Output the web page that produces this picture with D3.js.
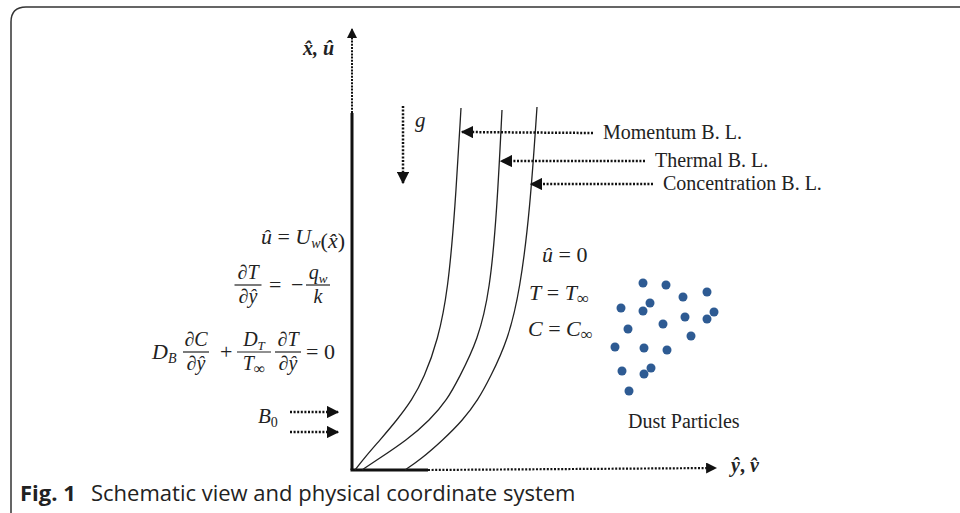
<!DOCTYPE html>
<html>
<head>
<meta charset="utf-8">
<script src="https://cdn.jsdelivr.net/npm/d3@7"></script>
<style>
  body { margin: 0; background: #fff; }
  .math { font-family: 'Liberation Serif', 'DejaVu Serif', serif; fill: #222; }
  .lbl { font-family: 'Liberation Serif', serif; font-size: 20px; fill: #222; }
  .cap { font-family: 'Open Sans', sans-serif; font-size: 22px; fill: #222; }
</style>
</head>
<body>
<svg width="960" height="513"></svg>
<script>
// boundary layer edges: [distance from wall, height above leading edge]
const momentumBL = [[3,0],[14,14],[28,30],[45,50],[60,70],[72,92],[86,130],[96,180],[103,260],[109,362]];
const thermalBL = [[10,0],[25,10],[55,30],[78,50],[95,70],[107,92],[126,130],[138,180],[145,260],[150,360]];
const concentrationBL = [[53,0],[68,10],[91,30],[111,50],[126,70],[138,92],[156,130],[168,180],[178,260],[185,363]];

// dust particle positions
const dust = [[291,187],[314,185],[331,173],[355,178],[269,162],[298,167],[291,159],[362,158],
  [355,151],[333,153],[311,146],[276,141],[339,134],[263,123],[292,122],[315,120],
  [270,99],[299,102],[292,96],[277,79]];

// pointers from labels to the layer edges
const pointers = [
  {label: 'Momentum B. L.', from: [241,337], to: [110,338]},
  {label: 'Thermal B. L.', from: [293,309], to: [149,309]},
  {label: 'Concentration B. L.', from: [301,286], to: [179,286]}
];
const magneticArrows = [58, 38];

const svg = d3.select('svg');
const x = d3.scaleLinear().domain([0, 366]).range([352, 718]);
const y = d3.scaleLinear().domain([0, 443]).range([470, 27]);

const defs = svg.append('defs');
defs.append('marker').attr('id', 'head')
  .attr('viewBox', '0 0 10 10').attr('refX', 9).attr('refY', 5)
  .attr('markerWidth', 5).attr('markerHeight', 5)
  .attr('markerUnits', 'strokeWidth').attr('orient', 'auto')
  .append('path').attr('d', 'M0,0 L10,5 L0,10 z').attr('fill', '#111');

// frame
svg.append('path')
  .attr('d', 'M11,513 V22 Q11,7 26,7 H960')
  .attr('fill', 'none').attr('stroke', '#333').attr('stroke-width', 1.5);

const dotted = (x1, y1, x2, y2, w, head) => {
  const l = svg.append('line')
    .attr('x1', x(x1)).attr('y1', y(y1)).attr('x2', x(x2)).attr('y2', y(y2))
    .attr('stroke', '#111').attr('stroke-width', w)
    .attr('stroke-dasharray', '2,1.6');
  if (head) l.attr('marker-end', 'url(#head)');
  return l;
};

// wall and axes
svg.append('line').attr('x1', x(0)).attr('x2', x(0)).attr('y1', y(0)).attr('y2', y(357))
  .attr('stroke', '#111').attr('stroke-width', 3);
dotted(0, 357, 0, 441, 2, true).attr('stroke-dasharray', '2,1.2');
svg.append('line').attr('x1', x(0) - 1.5).attr('x2', x(76)).attr('y1', y(0)).attr('y2', y(0))
  .attr('stroke', '#111').attr('stroke-width', 3);
dotted(76, 0, 364, 2, 2.2, true);

// gravity
dotted(51, 364, 51, 287, 2.5, true);

// boundary layers
const line = d3.line().x(d => x(d[0])).y(d => y(d[1])).curve(d3.curveBasis);
[momentumBL, thermalBL, concentrationBL].forEach(c => {
  svg.append('path').attr('d', line(c))
    .attr('fill', 'none').attr('stroke', '#222').attr('stroke-width', 1.3);
});

pointers.forEach(p => {
  dotted(p.from[0], p.from[1], p.to[0], p.to[1], 2.5, true);
});
svg.selectAll('.plabel').data(pointers).enter().append('text')
  .attr('class', 'lbl')
  .attr('x', d => x(d.from[0]) + 10)
  .attr('y', d => y(d.from[1]) + 6)
  .text(d => d.label);

magneticArrows.forEach(v => dotted(-62, v, -14, v, 2.5, true));

// dust
svg.selectAll('.dust').data(dust).enter().append('circle')
  .attr('cx', d => x(d[0])).attr('cy', d => y(d[1])).attr('r', 4.5)
  .attr('fill', '#2e5b93');

svg.append('text').attr('class', 'lbl').attr('x', 628).attr('y', 428)
  .attr('font-size', 21).text('Dust Particles');

// math labels
const it = s => `<tspan font-style="italic">${s}</tspan>`;
const sub = (s, ital = true, sz = 14) => `<tspan font-size="${sz}" dy="4"${ital ? ' font-style="italic"' : ''}>${s}</tspan><tspan dy="-4"></tspan>`;
const mt = (px, py, html, size = 22, anchor = 'start') =>
  svg.append('text').attr('class', 'math').attr('x', px).attr('y', py)
    .attr('font-size', size).attr('text-anchor', anchor).html(html);
const frac = (cx, by, num, den, w) => {
  mt(cx, by - 6, num, 20, 'middle');
  mt(cx, by + 18, den, 20, 'middle');
  svg.append('line').attr('x1', cx - w / 2).attr('x2', cx + w / 2)
    .attr('y1', by).attr('y2', by).attr('stroke', '#222').attr('stroke-width', 1.2);
};

svg.append('text').attr('class', 'math').attr('x', 334).attr('y', 55)
  .attr('font-size', 20).attr('font-weight', 'bold').attr('text-anchor', 'end')
  .html(it('x\u0302, û'));
svg.append('text').attr('class', 'math').attr('x', 731).attr('y', 472)
  .attr('font-size', 20).attr('font-weight', 'bold')
  .html(it('ŷ') + ', ' + it('v\u0302'));
mt(415, 127, it('g'), 21);

mt(345, 244, it('û') + ' = ' + it('U') + sub('w') + '(' + it('x\u0302') + ')', 22, 'end');

frac(248, 285, '∂' + it('T'), '∂' + it('ŷ'), 27);
mt(269, 292, '=');
mt(291, 292, '−');
frac(318, 285, it('q') + sub('w', true, 13), it('k'), 24);

mt(152, 359, it('D') + sub('B'));
frac(196, 352, '∂' + it('C'), '∂' + it('ŷ'), 26);
mt(220, 359, '+');
frac(254, 352, it('D') + sub('T', true, 13), it('T') + sub('∞', false, 16), 34);
frac(288, 352, '∂' + it('T'), '∂' + it('ŷ'), 26);
mt(306, 359, '= 0');

mt(258, 423, it('B') + sub('0', false), 21);

mt(542, 262, it('û') + ' = 0');
mt(529, 300, it('T') + ' = ' + it('T') + sub('∞', false, 17));
mt(528, 336, it('C') + ' = ' + it('C') + sub('∞', false, 17));

// caption
svg.append('text').attr('class', 'cap').attr('x', 20).attr('y', 501)
  .attr('font-weight', 'bold').text('Fig. 1');
svg.append('text').attr('class', 'cap').attr('x', 91).attr('y', 501)
  .text('Schematic view and physical coordinate system');
</script>
</body>
</html>
